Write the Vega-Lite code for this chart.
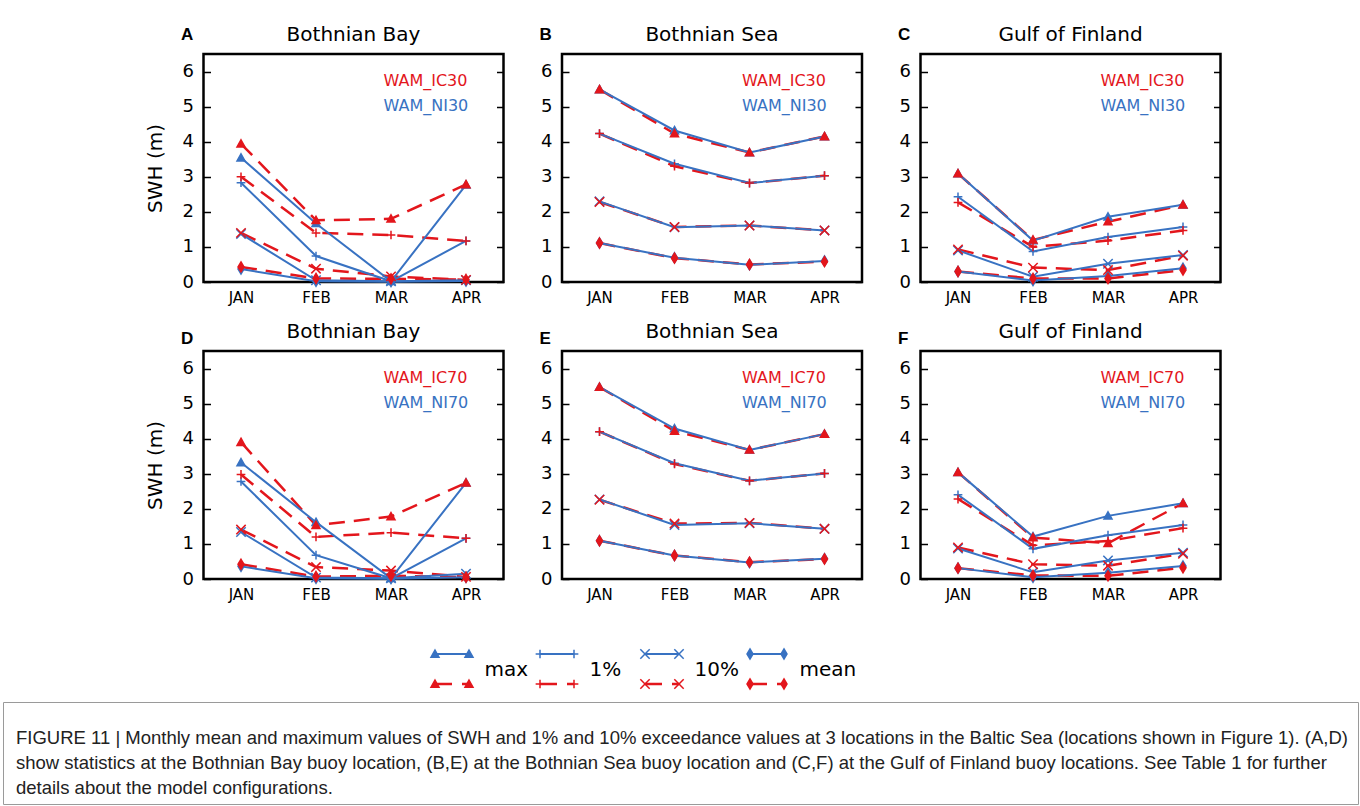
{
"$schema": "https://vega.github.io/schema/vega-lite/v6.json",
"background": "white",
"padding": {"left": 2, "top": 23, "right": 0, "bottom": 0},
"config": {"font": "DejaVu Sans", "view": {"stroke": "black", "strokeWidth": 2.5}, "axis": {"labelFont": "DejaVu Sans", "titleFont": "DejaVu Sans"}},
"datasets": {
"swh": [
{"p":"A","md":"IC","s":"max","m":1,"v":3.94},{"p":"A","md":"IC","s":"max","m":2,"v":1.76},{"p":"A","md":"IC","s":"max","m":3,"v":1.8},{"p":"A","md":"IC","s":"max","m":4,"v":2.78},
{"p":"A","md":"NI","s":"max","m":1,"v":3.54},{"p":"A","md":"NI","s":"max","m":2,"v":1.67},{"p":"A","md":"NI","s":"max","m":3,"v":0.02},{"p":"A","md":"NI","s":"max","m":4,"v":2.77},
{"p":"A","md":"IC","s":"1%","m":1,"v":3.0},{"p":"A","md":"IC","s":"1%","m":2,"v":1.4},{"p":"A","md":"IC","s":"1%","m":3,"v":1.34},{"p":"A","md":"IC","s":"1%","m":4,"v":1.17},
{"p":"A","md":"NI","s":"1%","m":1,"v":2.83},{"p":"A","md":"NI","s":"1%","m":2,"v":0.74},{"p":"A","md":"NI","s":"1%","m":3,"v":0.02},{"p":"A","md":"NI","s":"1%","m":4,"v":1.17},
{"p":"A","md":"IC","s":"10%","m":1,"v":1.4},{"p":"A","md":"IC","s":"10%","m":2,"v":0.38},{"p":"A","md":"IC","s":"10%","m":3,"v":0.16},{"p":"A","md":"IC","s":"10%","m":4,"v":0.06},
{"p":"A","md":"NI","s":"10%","m":1,"v":1.37},{"p":"A","md":"NI","s":"10%","m":2,"v":0.05},{"p":"A","md":"NI","s":"10%","m":3,"v":0.02},{"p":"A","md":"NI","s":"10%","m":4,"v":0.05},
{"p":"A","md":"IC","s":"mean","m":1,"v":0.43},{"p":"A","md":"IC","s":"mean","m":2,"v":0.1},{"p":"A","md":"IC","s":"mean","m":3,"v":0.09},{"p":"A","md":"IC","s":"mean","m":4,"v":0.07},
{"p":"A","md":"NI","s":"mean","m":1,"v":0.37},{"p":"A","md":"NI","s":"mean","m":2,"v":0.02},{"p":"A","md":"NI","s":"mean","m":3,"v":0.01},{"p":"A","md":"NI","s":"mean","m":4,"v":0.03},
{"p":"B","md":"IC","s":"max","m":1,"v":5.49},{"p":"B","md":"IC","s":"max","m":2,"v":4.23},{"p":"B","md":"IC","s":"max","m":3,"v":3.69},{"p":"B","md":"IC","s":"max","m":4,"v":4.15},
{"p":"B","md":"NI","s":"max","m":1,"v":5.49},{"p":"B","md":"NI","s":"max","m":2,"v":4.32},{"p":"B","md":"NI","s":"max","m":3,"v":3.69},{"p":"B","md":"NI","s":"max","m":4,"v":4.15},
{"p":"B","md":"IC","s":"1%","m":1,"v":4.23},{"p":"B","md":"IC","s":"1%","m":2,"v":3.3},{"p":"B","md":"IC","s":"1%","m":3,"v":2.82},{"p":"B","md":"IC","s":"1%","m":4,"v":3.03},
{"p":"B","md":"NI","s":"1%","m":1,"v":4.23},{"p":"B","md":"NI","s":"1%","m":2,"v":3.37},{"p":"B","md":"NI","s":"1%","m":3,"v":2.82},{"p":"B","md":"NI","s":"1%","m":4,"v":3.03},
{"p":"B","md":"IC","s":"10%","m":1,"v":2.28},{"p":"B","md":"IC","s":"10%","m":2,"v":1.57},{"p":"B","md":"IC","s":"10%","m":3,"v":1.61},{"p":"B","md":"IC","s":"10%","m":4,"v":1.47},
{"p":"B","md":"NI","s":"10%","m":1,"v":2.3},{"p":"B","md":"NI","s":"10%","m":2,"v":1.56},{"p":"B","md":"NI","s":"10%","m":3,"v":1.61},{"p":"B","md":"NI","s":"10%","m":4,"v":1.47},
{"p":"B","md":"IC","s":"mean","m":1,"v":1.11},{"p":"B","md":"IC","s":"mean","m":2,"v":0.68},{"p":"B","md":"IC","s":"mean","m":3,"v":0.5},{"p":"B","md":"IC","s":"mean","m":4,"v":0.58},
{"p":"B","md":"NI","s":"mean","m":1,"v":1.11},{"p":"B","md":"NI","s":"mean","m":2,"v":0.69},{"p":"B","md":"NI","s":"mean","m":3,"v":0.49},{"p":"B","md":"NI","s":"mean","m":4,"v":0.6},
{"p":"C","md":"IC","s":"max","m":1,"v":3.09},{"p":"C","md":"IC","s":"max","m":2,"v":1.2},{"p":"C","md":"IC","s":"max","m":3,"v":1.72},{"p":"C","md":"IC","s":"max","m":4,"v":2.2},
{"p":"C","md":"NI","s":"max","m":1,"v":3.09},{"p":"C","md":"NI","s":"max","m":2,"v":1.18},{"p":"C","md":"NI","s":"max","m":3,"v":1.86},{"p":"C","md":"NI","s":"max","m":4,"v":2.2},
{"p":"C","md":"IC","s":"1%","m":1,"v":2.27},{"p":"C","md":"IC","s":"1%","m":2,"v":1.0},{"p":"C","md":"IC","s":"1%","m":3,"v":1.18},{"p":"C","md":"IC","s":"1%","m":4,"v":1.47},
{"p":"C","md":"NI","s":"1%","m":1,"v":2.43},{"p":"C","md":"NI","s":"1%","m":2,"v":0.87},{"p":"C","md":"NI","s":"1%","m":3,"v":1.28},{"p":"C","md":"NI","s":"1%","m":4,"v":1.57},
{"p":"C","md":"IC","s":"10%","m":1,"v":0.93},{"p":"C","md":"IC","s":"10%","m":2,"v":0.41},{"p":"C","md":"IC","s":"10%","m":3,"v":0.34},{"p":"C","md":"IC","s":"10%","m":4,"v":0.75},
{"p":"C","md":"NI","s":"10%","m":1,"v":0.9},{"p":"C","md":"NI","s":"10%","m":2,"v":0.15},{"p":"C","md":"NI","s":"10%","m":3,"v":0.52},{"p":"C","md":"NI","s":"10%","m":4,"v":0.77},
{"p":"C","md":"IC","s":"mean","m":1,"v":0.3},{"p":"C","md":"IC","s":"mean","m":2,"v":0.1},{"p":"C","md":"IC","s":"mean","m":3,"v":0.1},{"p":"C","md":"IC","s":"mean","m":4,"v":0.34},
{"p":"C","md":"NI","s":"mean","m":1,"v":0.3},{"p":"C","md":"NI","s":"mean","m":2,"v":0.04},{"p":"C","md":"NI","s":"mean","m":3,"v":0.17},{"p":"C","md":"NI","s":"mean","m":4,"v":0.39},
{"p":"D","md":"IC","s":"max","m":1,"v":3.9},{"p":"D","md":"IC","s":"max","m":2,"v":1.53},{"p":"D","md":"IC","s":"max","m":3,"v":1.78},{"p":"D","md":"IC","s":"max","m":4,"v":2.74},
{"p":"D","md":"NI","s":"max","m":1,"v":3.32},{"p":"D","md":"NI","s":"max","m":2,"v":1.62},{"p":"D","md":"NI","s":"max","m":3,"v":0.02},{"p":"D","md":"NI","s":"max","m":4,"v":2.74},
{"p":"D","md":"IC","s":"1%","m":1,"v":2.98},{"p":"D","md":"IC","s":"1%","m":2,"v":1.2},{"p":"D","md":"IC","s":"1%","m":3,"v":1.32},{"p":"D","md":"IC","s":"1%","m":4,"v":1.16},
{"p":"D","md":"NI","s":"1%","m":1,"v":2.78},{"p":"D","md":"NI","s":"1%","m":2,"v":0.68},{"p":"D","md":"NI","s":"1%","m":3,"v":0.02},{"p":"D","md":"NI","s":"1%","m":4,"v":1.16},
{"p":"D","md":"IC","s":"10%","m":1,"v":1.41},{"p":"D","md":"IC","s":"10%","m":2,"v":0.34},{"p":"D","md":"IC","s":"10%","m":3,"v":0.24},{"p":"D","md":"IC","s":"10%","m":4,"v":0.06},
{"p":"D","md":"NI","s":"10%","m":1,"v":1.34},{"p":"D","md":"NI","s":"10%","m":2,"v":0.04},{"p":"D","md":"NI","s":"10%","m":3,"v":0.02},{"p":"D","md":"NI","s":"10%","m":4,"v":0.15},
{"p":"D","md":"IC","s":"mean","m":1,"v":0.42},{"p":"D","md":"IC","s":"mean","m":2,"v":0.07},{"p":"D","md":"IC","s":"mean","m":3,"v":0.09},{"p":"D","md":"IC","s":"mean","m":4,"v":0.05},
{"p":"D","md":"NI","s":"mean","m":1,"v":0.36},{"p":"D","md":"NI","s":"mean","m":2,"v":0.02},{"p":"D","md":"NI","s":"mean","m":3,"v":0.01},{"p":"D","md":"NI","s":"mean","m":4,"v":0.05},
{"p":"E","md":"IC","s":"max","m":1,"v":5.47},{"p":"E","md":"IC","s":"max","m":2,"v":4.22},{"p":"E","md":"IC","s":"max","m":3,"v":3.68},{"p":"E","md":"IC","s":"max","m":4,"v":4.13},
{"p":"E","md":"NI","s":"max","m":1,"v":5.47},{"p":"E","md":"NI","s":"max","m":2,"v":4.29},{"p":"E","md":"NI","s":"max","m":3,"v":3.68},{"p":"E","md":"NI","s":"max","m":4,"v":4.13},
{"p":"E","md":"IC","s":"1%","m":1,"v":4.2},{"p":"E","md":"IC","s":"1%","m":2,"v":3.28},{"p":"E","md":"IC","s":"1%","m":3,"v":2.8},{"p":"E","md":"IC","s":"1%","m":4,"v":3.01},
{"p":"E","md":"NI","s":"1%","m":1,"v":4.2},{"p":"E","md":"NI","s":"1%","m":2,"v":3.3},{"p":"E","md":"NI","s":"1%","m":3,"v":2.8},{"p":"E","md":"NI","s":"1%","m":4,"v":3.01},
{"p":"E","md":"IC","s":"10%","m":1,"v":2.26},{"p":"E","md":"IC","s":"10%","m":2,"v":1.58},{"p":"E","md":"IC","s":"10%","m":3,"v":1.6},{"p":"E","md":"IC","s":"10%","m":4,"v":1.43},
{"p":"E","md":"NI","s":"10%","m":1,"v":2.27},{"p":"E","md":"NI","s":"10%","m":2,"v":1.54},{"p":"E","md":"NI","s":"10%","m":3,"v":1.59},{"p":"E","md":"NI","s":"10%","m":4,"v":1.43},
{"p":"E","md":"IC","s":"mean","m":1,"v":1.09},{"p":"E","md":"IC","s":"mean","m":2,"v":0.67},{"p":"E","md":"IC","s":"mean","m":3,"v":0.48},{"p":"E","md":"IC","s":"mean","m":4,"v":0.57},
{"p":"E","md":"NI","s":"mean","m":1,"v":1.09},{"p":"E","md":"NI","s":"mean","m":2,"v":0.67},{"p":"E","md":"NI","s":"mean","m":3,"v":0.47},{"p":"E","md":"NI","s":"mean","m":4,"v":0.58},
{"p":"F","md":"IC","s":"max","m":1,"v":3.04},{"p":"F","md":"IC","s":"max","m":2,"v":1.18},{"p":"F","md":"IC","s":"max","m":3,"v":1.02},{"p":"F","md":"IC","s":"max","m":4,"v":2.16},
{"p":"F","md":"NI","s":"max","m":1,"v":3.04},{"p":"F","md":"NI","s":"max","m":2,"v":1.21},{"p":"F","md":"NI","s":"max","m":3,"v":1.8},{"p":"F","md":"NI","s":"max","m":4,"v":2.16},
{"p":"F","md":"IC","s":"1%","m":1,"v":2.28},{"p":"F","md":"IC","s":"1%","m":2,"v":0.96},{"p":"F","md":"IC","s":"1%","m":3,"v":1.08},{"p":"F","md":"IC","s":"1%","m":4,"v":1.45},
{"p":"F","md":"NI","s":"1%","m":1,"v":2.4},{"p":"F","md":"NI","s":"1%","m":2,"v":0.86},{"p":"F","md":"NI","s":"1%","m":3,"v":1.25},{"p":"F","md":"NI","s":"1%","m":4,"v":1.54},
{"p":"F","md":"IC","s":"10%","m":1,"v":0.9},{"p":"F","md":"IC","s":"10%","m":2,"v":0.42},{"p":"F","md":"IC","s":"10%","m":3,"v":0.38},{"p":"F","md":"IC","s":"10%","m":4,"v":0.72},
{"p":"F","md":"NI","s":"10%","m":1,"v":0.87},{"p":"F","md":"NI","s":"10%","m":2,"v":0.19},{"p":"F","md":"NI","s":"10%","m":3,"v":0.53},{"p":"F","md":"NI","s":"10%","m":4,"v":0.75},
{"p":"F","md":"IC","s":"mean","m":1,"v":0.31},{"p":"F","md":"IC","s":"mean","m":2,"v":0.1},{"p":"F","md":"IC","s":"mean","m":3,"v":0.09},{"p":"F","md":"IC","s":"mean","m":4,"v":0.32},
{"p":"F","md":"NI","s":"mean","m":1,"v":0.31},{"p":"F","md":"NI","s":"mean","m":2,"v":0.05},{"p":"F","md":"NI","s":"mean","m":3,"v":0.18},{"p":"F","md":"NI","s":"mean","m":4,"v":0.37}
],
"leg": [
{"s":"max","md":"NI","e":"L"},{"s":"max","md":"NI","e":"R"},{"s":"max","md":"IC","e":"L"},{"s":"max","md":"IC","e":"R"},
{"s":"1%","md":"NI","e":"L"},{"s":"1%","md":"NI","e":"R"},{"s":"1%","md":"IC","e":"L"},{"s":"1%","md":"IC","e":"R"},
{"s":"10%","md":"NI","e":"L"},{"s":"10%","md":"NI","e":"R"},{"s":"10%","md":"IC","e":"L"},{"s":"10%","md":"IC","e":"R"},
{"s":"mean","md":"NI","e":"L"},{"s":"mean","md":"NI","e":"R"},{"s":"mean","md":"IC","e":"L"},{"s":"mean","md":"IC","e":"R"}
],
"cap": [
{"ln":1,"t":"FIGURE 11 | Monthly mean and maximum values of SWH and 1% and 10% exceedance values at 3 locations in the Baltic Sea (locations shown in Figure 1). (A,D)"},
{"ln":2,"t":"show statistics at the Bothnian Bay buoy location, (B,E) at the Bothnian Sea buoy location and (C,F) at the Gulf of Finland buoy locations. See Table 1 for further"},
{"ln":3,"t":"details about the model configurations."}
]
},
"resolve": {"scale": {"x": "independent", "y": "independent"}},
"spacing": 42,
"vconcat": [
{"vconcat": [
{"hconcat": [
{"width": 141.5, "height": 10, "view": {"stroke": null}, "data": {"values": [{}]}, "mark": {"type": "text", "text": ""}},
{"width": 300, "height": 228, "data": {"name": "swh"}, "resolve": {"axis": {"x": "independent", "y": "independent"}}, "layer": [
{"transform": [{"filter": "datum.p === 'A' && datum.md === 'IC'"}], "mark": {"type": "line", "color": "#e3161c", "strokeWidth": 2.5, "strokeDash": [16, 9]}, "encoding": {"x": {"field": "m", "type": "quantitative", "scale": {"domain": [0.5, 4.5], "nice": false, "zero": false}, "axis": {"orient": "bottom", "values": [1,2,3,4], "labelExpr": "['JAN','FEB','MAR','APR'][datum.value-1]", "ticks": false, "domain": false, "grid": false, "labelFontSize": 15, "labelPadding": 8, "title": null, "labelColor": "black"}}, "y": {"field": "v", "type": "quantitative", "scale": {"domain": [0, 6.5], "nice": false}, "axis": {"values": [0,1,2,3,4,5,6], "format": "d", "grid": false, "domain": false, "tickSize": -7, "tickWidth": 1.5, "tickColor": "black", "labelFontSize": 18, "labelPadding": 17, "labelColor": "black", "title": "SWH (m)", "titleFontSize": 20, "titleFontWeight": "normal", "titleColor": "black", "titlePadding": 17}}, "detail": {"field": "s"}}},
{"transform": [{"filter": "datum.p === 'A' && datum.md === 'NI'"}], "mark": {"type": "line", "color": "#3872c2", "strokeWidth": 2}, "encoding": {"x": {"field": "m", "type": "quantitative", "scale": {"domain": [0.5, 4.5], "nice": false, "zero": false}, "axis": null}, "y": {"field": "v", "type": "quantitative", "scale": {"domain": [0, 6.5], "nice": false}, "axis": {"orient": "right", "values": [0,1,2,3,4,5,6], "labels": false, "grid": false, "domain": false, "tickSize": -7, "tickWidth": 1.5, "tickColor": "black", "title": null}}, "detail": {"field": "s"}}},
{"transform": [{"filter": "datum.p === 'A' && datum.md === 'NI'"}], "mark": {"type": "point", "filled": false, "color": "#3872c2", "strokeWidth": 1.5, "opacity": 1}, "encoding": {"x": {"field": "m", "type": "quantitative", "scale": {"domain": [0.5, 4.5], "nice": false, "zero": false}, "axis": null}, "y": {"field": "v", "type": "quantitative", "scale": {"domain": [0, 6.5], "nice": false}, "axis": null}, "shape": {"field": "s", "type": "nominal", "scale": {"domain": ["max","1%","10%","mean"], "range": ["M0,-1L1,0.8L-1,0.8Z","M-1,0H1M0,-1V1","M-1,-1L1,1M-1,1L1,-1","M0,-1L0.6,0L0,1L-0.6,0Z"]}, "legend": null}, "size": {"field": "s", "type": "nominal", "scale": {"domain": ["max","1%","10%","mean"], "range": [64, 100, 81, 121]}, "legend": null}, "fill": {"condition": {"test": "datum.s === 'max' || datum.s === 'mean'", "value": "#3872c2"}, "value": "transparent"}}},
{"transform": [{"filter": "datum.p === 'A' && datum.md === 'IC'"}], "mark": {"type": "point", "filled": false, "color": "#e3161c", "strokeWidth": 1.5, "opacity": 1}, "encoding": {"x": {"field": "m", "type": "quantitative", "scale": {"domain": [0.5, 4.5], "nice": false, "zero": false}, "axis": null}, "y": {"field": "v", "type": "quantitative", "scale": {"domain": [0, 6.5], "nice": false}, "axis": null}, "shape": {"field": "s", "type": "nominal", "scale": {"domain": ["max","1%","10%","mean"], "range": ["M0,-1L1,0.8L-1,0.8Z","M-1,0H1M0,-1V1","M-1,-1L1,1M-1,1L1,-1","M0,-1L0.6,0L0,1L-0.6,0Z"]}, "legend": null}, "size": {"field": "s", "type": "nominal", "scale": {"domain": ["max","1%","10%","mean"], "range": [64, 100, 81, 121]}, "legend": null}, "fill": {"condition": {"test": "datum.s === 'max' || datum.s === 'mean'", "value": "#e3161c"}, "value": "transparent"}}},
{"data": {"values": [{}]}, "mark": {"type": "text", "text": "A", "font": "Liberation Sans", "fontWeight": "bold", "fontSize": 17, "align": "left", "baseline": "alphabetic", "color": "black"}, "encoding": {"x": {"datum": 0.2, "type": "quantitative", "scale": {"domain": [0.5, 4.5], "nice": false, "zero": false}, "axis": null}, "y": {"datum": 6.9, "type": "quantitative", "scale": {"domain": [0, 6.5], "nice": false}, "axis": null}}},
{"data": {"values": [{}]}, "mark": {"type": "text", "text": "Bothnian Bay", "fontSize": 20, "align": "center", "baseline": "alphabetic", "color": "black"}, "encoding": {"x": {"datum": 2.5, "type": "quantitative", "scale": {"domain": [0.5, 4.5], "nice": false, "zero": false}, "axis": null}, "y": {"datum": 6.87, "type": "quantitative", "scale": {"domain": [0, 6.5], "nice": false}, "axis": null}}},
{"data": {"values": [{}]}, "mark": {"type": "text", "text": "WAM_IC30", "fontSize": 16, "align": "left", "baseline": "middle", "color": "#e3161c"}, "encoding": {"x": {"datum": 2.9, "type": "quantitative", "scale": {"domain": [0.5, 4.5], "nice": false, "zero": false}, "axis": null}, "y": {"datum": 5.74, "type": "quantitative", "scale": {"domain": [0, 6.5], "nice": false}, "axis": null}}},
{"data": {"values": [{}]}, "mark": {"type": "text", "text": "WAM_NI30", "fontSize": 16, "align": "left", "baseline": "middle", "color": "#3872c2"}, "encoding": {"x": {"datum": 2.9, "type": "quantitative", "scale": {"domain": [0.5, 4.5], "nice": false, "zero": false}, "axis": null}, "y": {"datum": 5.03, "type": "quantitative", "scale": {"domain": [0, 6.5], "nice": false}, "axis": null}}}
]},
{"width": 300, "height": 228, "data": {"name": "swh"}, "resolve": {"axis": {"x": "independent", "y": "independent"}}, "layer": [
{"transform": [{"filter": "datum.p === 'B' && datum.md === 'IC'"}], "mark": {"type": "line", "color": "#e3161c", "strokeWidth": 2.5, "strokeDash": [16, 9]}, "encoding": {"x": {"field": "m", "type": "quantitative", "scale": {"domain": [0.5, 4.5], "nice": false, "zero": false}, "axis": {"orient": "bottom", "values": [1,2,3,4], "labelExpr": "['JAN','FEB','MAR','APR'][datum.value-1]", "ticks": false, "domain": false, "grid": false, "labelFontSize": 15, "labelPadding": 8, "title": null, "labelColor": "black"}}, "y": {"field": "v", "type": "quantitative", "scale": {"domain": [0, 6.5], "nice": false}, "axis": {"values": [0,1,2,3,4,5,6], "format": "d", "grid": false, "domain": false, "tickSize": -7, "tickWidth": 1.5, "tickColor": "black", "labelFontSize": 18, "labelPadding": 17, "labelColor": "black", "title": null}}, "detail": {"field": "s"}}},
{"transform": [{"filter": "datum.p === 'B' && datum.md === 'NI'"}], "mark": {"type": "line", "color": "#3872c2", "strokeWidth": 2}, "encoding": {"x": {"field": "m", "type": "quantitative", "scale": {"domain": [0.5, 4.5], "nice": false, "zero": false}, "axis": null}, "y": {"field": "v", "type": "quantitative", "scale": {"domain": [0, 6.5], "nice": false}, "axis": {"orient": "right", "values": [0,1,2,3,4,5,6], "labels": false, "grid": false, "domain": false, "tickSize": -7, "tickWidth": 1.5, "tickColor": "black", "title": null}}, "detail": {"field": "s"}}},
{"transform": [{"filter": "datum.p === 'B' && datum.md === 'NI'"}], "mark": {"type": "point", "filled": false, "color": "#3872c2", "strokeWidth": 1.5, "opacity": 1}, "encoding": {"x": {"field": "m", "type": "quantitative", "scale": {"domain": [0.5, 4.5], "nice": false, "zero": false}, "axis": null}, "y": {"field": "v", "type": "quantitative", "scale": {"domain": [0, 6.5], "nice": false}, "axis": null}, "shape": {"field": "s", "type": "nominal", "scale": {"domain": ["max","1%","10%","mean"], "range": ["M0,-1L1,0.8L-1,0.8Z","M-1,0H1M0,-1V1","M-1,-1L1,1M-1,1L1,-1","M0,-1L0.6,0L0,1L-0.6,0Z"]}, "legend": null}, "size": {"field": "s", "type": "nominal", "scale": {"domain": ["max","1%","10%","mean"], "range": [64, 100, 81, 121]}, "legend": null}, "fill": {"condition": {"test": "datum.s === 'max' || datum.s === 'mean'", "value": "#3872c2"}, "value": "transparent"}}},
{"transform": [{"filter": "datum.p === 'B' && datum.md === 'IC'"}], "mark": {"type": "point", "filled": false, "color": "#e3161c", "strokeWidth": 1.5, "opacity": 1}, "encoding": {"x": {"field": "m", "type": "quantitative", "scale": {"domain": [0.5, 4.5], "nice": false, "zero": false}, "axis": null}, "y": {"field": "v", "type": "quantitative", "scale": {"domain": [0, 6.5], "nice": false}, "axis": null}, "shape": {"field": "s", "type": "nominal", "scale": {"domain": ["max","1%","10%","mean"], "range": ["M0,-1L1,0.8L-1,0.8Z","M-1,0H1M0,-1V1","M-1,-1L1,1M-1,1L1,-1","M0,-1L0.6,0L0,1L-0.6,0Z"]}, "legend": null}, "size": {"field": "s", "type": "nominal", "scale": {"domain": ["max","1%","10%","mean"], "range": [64, 100, 81, 121]}, "legend": null}, "fill": {"condition": {"test": "datum.s === 'max' || datum.s === 'mean'", "value": "#e3161c"}, "value": "transparent"}}},
{"data": {"values": [{}]}, "mark": {"type": "text", "text": "B", "font": "Liberation Sans", "fontWeight": "bold", "fontSize": 17, "align": "left", "baseline": "alphabetic", "color": "black"}, "encoding": {"x": {"datum": 0.2, "type": "quantitative", "scale": {"domain": [0.5, 4.5], "nice": false, "zero": false}, "axis": null}, "y": {"datum": 6.9, "type": "quantitative", "scale": {"domain": [0, 6.5], "nice": false}, "axis": null}}},
{"data": {"values": [{}]}, "mark": {"type": "text", "text": "Bothnian Sea", "fontSize": 20, "align": "center", "baseline": "alphabetic", "color": "black"}, "encoding": {"x": {"datum": 2.5, "type": "quantitative", "scale": {"domain": [0.5, 4.5], "nice": false, "zero": false}, "axis": null}, "y": {"datum": 6.87, "type": "quantitative", "scale": {"domain": [0, 6.5], "nice": false}, "axis": null}}},
{"data": {"values": [{}]}, "mark": {"type": "text", "text": "WAM_IC30", "fontSize": 16, "align": "left", "baseline": "middle", "color": "#e3161c"}, "encoding": {"x": {"datum": 2.9, "type": "quantitative", "scale": {"domain": [0.5, 4.5], "nice": false, "zero": false}, "axis": null}, "y": {"datum": 5.74, "type": "quantitative", "scale": {"domain": [0, 6.5], "nice": false}, "axis": null}}},
{"data": {"values": [{}]}, "mark": {"type": "text", "text": "WAM_NI30", "fontSize": 16, "align": "left", "baseline": "middle", "color": "#3872c2"}, "encoding": {"x": {"datum": 2.9, "type": "quantitative", "scale": {"domain": [0.5, 4.5], "nice": false, "zero": false}, "axis": null}, "y": {"datum": 5.03, "type": "quantitative", "scale": {"domain": [0, 6.5], "nice": false}, "axis": null}}}
]},
{"width": 300, "height": 228, "data": {"name": "swh"}, "resolve": {"axis": {"x": "independent", "y": "independent"}}, "layer": [
{"transform": [{"filter": "datum.p === 'C' && datum.md === 'IC'"}], "mark": {"type": "line", "color": "#e3161c", "strokeWidth": 2.5, "strokeDash": [16, 9]}, "encoding": {"x": {"field": "m", "type": "quantitative", "scale": {"domain": [0.5, 4.5], "nice": false, "zero": false}, "axis": {"orient": "bottom", "values": [1,2,3,4], "labelExpr": "['JAN','FEB','MAR','APR'][datum.value-1]", "ticks": false, "domain": false, "grid": false, "labelFontSize": 15, "labelPadding": 8, "title": null, "labelColor": "black"}}, "y": {"field": "v", "type": "quantitative", "scale": {"domain": [0, 6.5], "nice": false}, "axis": {"values": [0,1,2,3,4,5,6], "format": "d", "grid": false, "domain": false, "tickSize": -7, "tickWidth": 1.5, "tickColor": "black", "labelFontSize": 18, "labelPadding": 17, "labelColor": "black", "title": null}}, "detail": {"field": "s"}}},
{"transform": [{"filter": "datum.p === 'C' && datum.md === 'NI'"}], "mark": {"type": "line", "color": "#3872c2", "strokeWidth": 2}, "encoding": {"x": {"field": "m", "type": "quantitative", "scale": {"domain": [0.5, 4.5], "nice": false, "zero": false}, "axis": null}, "y": {"field": "v", "type": "quantitative", "scale": {"domain": [0, 6.5], "nice": false}, "axis": {"orient": "right", "values": [0,1,2,3,4,5,6], "labels": false, "grid": false, "domain": false, "tickSize": -7, "tickWidth": 1.5, "tickColor": "black", "title": null}}, "detail": {"field": "s"}}},
{"transform": [{"filter": "datum.p === 'C' && datum.md === 'NI'"}], "mark": {"type": "point", "filled": false, "color": "#3872c2", "strokeWidth": 1.5, "opacity": 1}, "encoding": {"x": {"field": "m", "type": "quantitative", "scale": {"domain": [0.5, 4.5], "nice": false, "zero": false}, "axis": null}, "y": {"field": "v", "type": "quantitative", "scale": {"domain": [0, 6.5], "nice": false}, "axis": null}, "shape": {"field": "s", "type": "nominal", "scale": {"domain": ["max","1%","10%","mean"], "range": ["M0,-1L1,0.8L-1,0.8Z","M-1,0H1M0,-1V1","M-1,-1L1,1M-1,1L1,-1","M0,-1L0.6,0L0,1L-0.6,0Z"]}, "legend": null}, "size": {"field": "s", "type": "nominal", "scale": {"domain": ["max","1%","10%","mean"], "range": [64, 100, 81, 121]}, "legend": null}, "fill": {"condition": {"test": "datum.s === 'max' || datum.s === 'mean'", "value": "#3872c2"}, "value": "transparent"}}},
{"transform": [{"filter": "datum.p === 'C' && datum.md === 'IC'"}], "mark": {"type": "point", "filled": false, "color": "#e3161c", "strokeWidth": 1.5, "opacity": 1}, "encoding": {"x": {"field": "m", "type": "quantitative", "scale": {"domain": [0.5, 4.5], "nice": false, "zero": false}, "axis": null}, "y": {"field": "v", "type": "quantitative", "scale": {"domain": [0, 6.5], "nice": false}, "axis": null}, "shape": {"field": "s", "type": "nominal", "scale": {"domain": ["max","1%","10%","mean"], "range": ["M0,-1L1,0.8L-1,0.8Z","M-1,0H1M0,-1V1","M-1,-1L1,1M-1,1L1,-1","M0,-1L0.6,0L0,1L-0.6,0Z"]}, "legend": null}, "size": {"field": "s", "type": "nominal", "scale": {"domain": ["max","1%","10%","mean"], "range": [64, 100, 81, 121]}, "legend": null}, "fill": {"condition": {"test": "datum.s === 'max' || datum.s === 'mean'", "value": "#e3161c"}, "value": "transparent"}}},
{"data": {"values": [{}]}, "mark": {"type": "text", "text": "C", "font": "Liberation Sans", "fontWeight": "bold", "fontSize": 17, "align": "left", "baseline": "alphabetic", "color": "black"}, "encoding": {"x": {"datum": 0.2, "type": "quantitative", "scale": {"domain": [0.5, 4.5], "nice": false, "zero": false}, "axis": null}, "y": {"datum": 6.9, "type": "quantitative", "scale": {"domain": [0, 6.5], "nice": false}, "axis": null}}},
{"data": {"values": [{}]}, "mark": {"type": "text", "text": "Gulf of Finland", "fontSize": 20, "align": "center", "baseline": "alphabetic", "color": "black"}, "encoding": {"x": {"datum": 2.5, "type": "quantitative", "scale": {"domain": [0.5, 4.5], "nice": false, "zero": false}, "axis": null}, "y": {"datum": 6.87, "type": "quantitative", "scale": {"domain": [0, 6.5], "nice": false}, "axis": null}}},
{"data": {"values": [{}]}, "mark": {"type": "text", "text": "WAM_IC30", "fontSize": 16, "align": "left", "baseline": "middle", "color": "#e3161c"}, "encoding": {"x": {"datum": 2.9, "type": "quantitative", "scale": {"domain": [0.5, 4.5], "nice": false, "zero": false}, "axis": null}, "y": {"datum": 5.74, "type": "quantitative", "scale": {"domain": [0, 6.5], "nice": false}, "axis": null}}},
{"data": {"values": [{}]}, "mark": {"type": "text", "text": "WAM_NI30", "fontSize": 16, "align": "left", "baseline": "middle", "color": "#3872c2"}, "encoding": {"x": {"datum": 2.9, "type": "quantitative", "scale": {"domain": [0.5, 4.5], "nice": false, "zero": false}, "axis": null}, "y": {"datum": 5.03, "type": "quantitative", "scale": {"domain": [0, 6.5], "nice": false}, "axis": null}}}
]}
], "spacing": 58.5, "bounds": "flush", "resolve": {"scale": {"x": "independent", "y": "independent"}}},
{"hconcat": [
{"width": 141.5, "height": 10, "view": {"stroke": null}, "data": {"values": [{}]}, "mark": {"type": "text", "text": ""}},
{"width": 300, "height": 228, "data": {"name": "swh"}, "resolve": {"axis": {"x": "independent", "y": "independent"}}, "layer": [
{"transform": [{"filter": "datum.p === 'D' && datum.md === 'IC'"}], "mark": {"type": "line", "color": "#e3161c", "strokeWidth": 2.5, "strokeDash": [16, 9]}, "encoding": {"x": {"field": "m", "type": "quantitative", "scale": {"domain": [0.5, 4.5], "nice": false, "zero": false}, "axis": {"orient": "bottom", "values": [1,2,3,4], "labelExpr": "['JAN','FEB','MAR','APR'][datum.value-1]", "ticks": false, "domain": false, "grid": false, "labelFontSize": 15, "labelPadding": 8, "title": null, "labelColor": "black"}}, "y": {"field": "v", "type": "quantitative", "scale": {"domain": [0, 6.5], "nice": false}, "axis": {"values": [0,1,2,3,4,5,6], "format": "d", "grid": false, "domain": false, "tickSize": -7, "tickWidth": 1.5, "tickColor": "black", "labelFontSize": 18, "labelPadding": 17, "labelColor": "black", "title": "SWH (m)", "titleFontSize": 20, "titleFontWeight": "normal", "titleColor": "black", "titlePadding": 17}}, "detail": {"field": "s"}}},
{"transform": [{"filter": "datum.p === 'D' && datum.md === 'NI'"}], "mark": {"type": "line", "color": "#3872c2", "strokeWidth": 2}, "encoding": {"x": {"field": "m", "type": "quantitative", "scale": {"domain": [0.5, 4.5], "nice": false, "zero": false}, "axis": null}, "y": {"field": "v", "type": "quantitative", "scale": {"domain": [0, 6.5], "nice": false}, "axis": {"orient": "right", "values": [0,1,2,3,4,5,6], "labels": false, "grid": false, "domain": false, "tickSize": -7, "tickWidth": 1.5, "tickColor": "black", "title": null}}, "detail": {"field": "s"}}},
{"transform": [{"filter": "datum.p === 'D' && datum.md === 'NI'"}], "mark": {"type": "point", "filled": false, "color": "#3872c2", "strokeWidth": 1.5, "opacity": 1}, "encoding": {"x": {"field": "m", "type": "quantitative", "scale": {"domain": [0.5, 4.5], "nice": false, "zero": false}, "axis": null}, "y": {"field": "v", "type": "quantitative", "scale": {"domain": [0, 6.5], "nice": false}, "axis": null}, "shape": {"field": "s", "type": "nominal", "scale": {"domain": ["max","1%","10%","mean"], "range": ["M0,-1L1,0.8L-1,0.8Z","M-1,0H1M0,-1V1","M-1,-1L1,1M-1,1L1,-1","M0,-1L0.6,0L0,1L-0.6,0Z"]}, "legend": null}, "size": {"field": "s", "type": "nominal", "scale": {"domain": ["max","1%","10%","mean"], "range": [64, 100, 81, 121]}, "legend": null}, "fill": {"condition": {"test": "datum.s === 'max' || datum.s === 'mean'", "value": "#3872c2"}, "value": "transparent"}}},
{"transform": [{"filter": "datum.p === 'D' && datum.md === 'IC'"}], "mark": {"type": "point", "filled": false, "color": "#e3161c", "strokeWidth": 1.5, "opacity": 1}, "encoding": {"x": {"field": "m", "type": "quantitative", "scale": {"domain": [0.5, 4.5], "nice": false, "zero": false}, "axis": null}, "y": {"field": "v", "type": "quantitative", "scale": {"domain": [0, 6.5], "nice": false}, "axis": null}, "shape": {"field": "s", "type": "nominal", "scale": {"domain": ["max","1%","10%","mean"], "range": ["M0,-1L1,0.8L-1,0.8Z","M-1,0H1M0,-1V1","M-1,-1L1,1M-1,1L1,-1","M0,-1L0.6,0L0,1L-0.6,0Z"]}, "legend": null}, "size": {"field": "s", "type": "nominal", "scale": {"domain": ["max","1%","10%","mean"], "range": [64, 100, 81, 121]}, "legend": null}, "fill": {"condition": {"test": "datum.s === 'max' || datum.s === 'mean'", "value": "#e3161c"}, "value": "transparent"}}},
{"data": {"values": [{}]}, "mark": {"type": "text", "text": "D", "font": "Liberation Sans", "fontWeight": "bold", "fontSize": 17, "align": "left", "baseline": "alphabetic", "color": "black"}, "encoding": {"x": {"datum": 0.2, "type": "quantitative", "scale": {"domain": [0.5, 4.5], "nice": false, "zero": false}, "axis": null}, "y": {"datum": 6.7, "type": "quantitative", "scale": {"domain": [0, 6.5], "nice": false}, "axis": null}}},
{"data": {"values": [{}]}, "mark": {"type": "text", "text": "Bothnian Bay", "fontSize": 20, "align": "center", "baseline": "alphabetic", "color": "black"}, "encoding": {"x": {"datum": 2.5, "type": "quantitative", "scale": {"domain": [0.5, 4.5], "nice": false, "zero": false}, "axis": null}, "y": {"datum": 6.87, "type": "quantitative", "scale": {"domain": [0, 6.5], "nice": false}, "axis": null}}},
{"data": {"values": [{}]}, "mark": {"type": "text", "text": "WAM_IC70", "fontSize": 16, "align": "left", "baseline": "middle", "color": "#e3161c"}, "encoding": {"x": {"datum": 2.9, "type": "quantitative", "scale": {"domain": [0.5, 4.5], "nice": false, "zero": false}, "axis": null}, "y": {"datum": 5.74, "type": "quantitative", "scale": {"domain": [0, 6.5], "nice": false}, "axis": null}}},
{"data": {"values": [{}]}, "mark": {"type": "text", "text": "WAM_NI70", "fontSize": 16, "align": "left", "baseline": "middle", "color": "#3872c2"}, "encoding": {"x": {"datum": 2.9, "type": "quantitative", "scale": {"domain": [0.5, 4.5], "nice": false, "zero": false}, "axis": null}, "y": {"datum": 5.03, "type": "quantitative", "scale": {"domain": [0, 6.5], "nice": false}, "axis": null}}}
]},
{"width": 300, "height": 228, "data": {"name": "swh"}, "resolve": {"axis": {"x": "independent", "y": "independent"}}, "layer": [
{"transform": [{"filter": "datum.p === 'E' && datum.md === 'IC'"}], "mark": {"type": "line", "color": "#e3161c", "strokeWidth": 2.5, "strokeDash": [16, 9]}, "encoding": {"x": {"field": "m", "type": "quantitative", "scale": {"domain": [0.5, 4.5], "nice": false, "zero": false}, "axis": {"orient": "bottom", "values": [1,2,3,4], "labelExpr": "['JAN','FEB','MAR','APR'][datum.value-1]", "ticks": false, "domain": false, "grid": false, "labelFontSize": 15, "labelPadding": 8, "title": null, "labelColor": "black"}}, "y": {"field": "v", "type": "quantitative", "scale": {"domain": [0, 6.5], "nice": false}, "axis": {"values": [0,1,2,3,4,5,6], "format": "d", "grid": false, "domain": false, "tickSize": -7, "tickWidth": 1.5, "tickColor": "black", "labelFontSize": 18, "labelPadding": 17, "labelColor": "black", "title": null}}, "detail": {"field": "s"}}},
{"transform": [{"filter": "datum.p === 'E' && datum.md === 'NI'"}], "mark": {"type": "line", "color": "#3872c2", "strokeWidth": 2}, "encoding": {"x": {"field": "m", "type": "quantitative", "scale": {"domain": [0.5, 4.5], "nice": false, "zero": false}, "axis": null}, "y": {"field": "v", "type": "quantitative", "scale": {"domain": [0, 6.5], "nice": false}, "axis": {"orient": "right", "values": [0,1,2,3,4,5,6], "labels": false, "grid": false, "domain": false, "tickSize": -7, "tickWidth": 1.5, "tickColor": "black", "title": null}}, "detail": {"field": "s"}}},
{"transform": [{"filter": "datum.p === 'E' && datum.md === 'NI'"}], "mark": {"type": "point", "filled": false, "color": "#3872c2", "strokeWidth": 1.5, "opacity": 1}, "encoding": {"x": {"field": "m", "type": "quantitative", "scale": {"domain": [0.5, 4.5], "nice": false, "zero": false}, "axis": null}, "y": {"field": "v", "type": "quantitative", "scale": {"domain": [0, 6.5], "nice": false}, "axis": null}, "shape": {"field": "s", "type": "nominal", "scale": {"domain": ["max","1%","10%","mean"], "range": ["M0,-1L1,0.8L-1,0.8Z","M-1,0H1M0,-1V1","M-1,-1L1,1M-1,1L1,-1","M0,-1L0.6,0L0,1L-0.6,0Z"]}, "legend": null}, "size": {"field": "s", "type": "nominal", "scale": {"domain": ["max","1%","10%","mean"], "range": [64, 100, 81, 121]}, "legend": null}, "fill": {"condition": {"test": "datum.s === 'max' || datum.s === 'mean'", "value": "#3872c2"}, "value": "transparent"}}},
{"transform": [{"filter": "datum.p === 'E' && datum.md === 'IC'"}], "mark": {"type": "point", "filled": false, "color": "#e3161c", "strokeWidth": 1.5, "opacity": 1}, "encoding": {"x": {"field": "m", "type": "quantitative", "scale": {"domain": [0.5, 4.5], "nice": false, "zero": false}, "axis": null}, "y": {"field": "v", "type": "quantitative", "scale": {"domain": [0, 6.5], "nice": false}, "axis": null}, "shape": {"field": "s", "type": "nominal", "scale": {"domain": ["max","1%","10%","mean"], "range": ["M0,-1L1,0.8L-1,0.8Z","M-1,0H1M0,-1V1","M-1,-1L1,1M-1,1L1,-1","M0,-1L0.6,0L0,1L-0.6,0Z"]}, "legend": null}, "size": {"field": "s", "type": "nominal", "scale": {"domain": ["max","1%","10%","mean"], "range": [64, 100, 81, 121]}, "legend": null}, "fill": {"condition": {"test": "datum.s === 'max' || datum.s === 'mean'", "value": "#e3161c"}, "value": "transparent"}}},
{"data": {"values": [{}]}, "mark": {"type": "text", "text": "E", "font": "Liberation Sans", "fontWeight": "bold", "fontSize": 17, "align": "left", "baseline": "alphabetic", "color": "black"}, "encoding": {"x": {"datum": 0.2, "type": "quantitative", "scale": {"domain": [0.5, 4.5], "nice": false, "zero": false}, "axis": null}, "y": {"datum": 6.7, "type": "quantitative", "scale": {"domain": [0, 6.5], "nice": false}, "axis": null}}},
{"data": {"values": [{}]}, "mark": {"type": "text", "text": "Bothnian Sea", "fontSize": 20, "align": "center", "baseline": "alphabetic", "color": "black"}, "encoding": {"x": {"datum": 2.5, "type": "quantitative", "scale": {"domain": [0.5, 4.5], "nice": false, "zero": false}, "axis": null}, "y": {"datum": 6.87, "type": "quantitative", "scale": {"domain": [0, 6.5], "nice": false}, "axis": null}}},
{"data": {"values": [{}]}, "mark": {"type": "text", "text": "WAM_IC70", "fontSize": 16, "align": "left", "baseline": "middle", "color": "#e3161c"}, "encoding": {"x": {"datum": 2.9, "type": "quantitative", "scale": {"domain": [0.5, 4.5], "nice": false, "zero": false}, "axis": null}, "y": {"datum": 5.74, "type": "quantitative", "scale": {"domain": [0, 6.5], "nice": false}, "axis": null}}},
{"data": {"values": [{}]}, "mark": {"type": "text", "text": "WAM_NI70", "fontSize": 16, "align": "left", "baseline": "middle", "color": "#3872c2"}, "encoding": {"x": {"datum": 2.9, "type": "quantitative", "scale": {"domain": [0.5, 4.5], "nice": false, "zero": false}, "axis": null}, "y": {"datum": 5.03, "type": "quantitative", "scale": {"domain": [0, 6.5], "nice": false}, "axis": null}}}
]},
{"width": 300, "height": 228, "data": {"name": "swh"}, "resolve": {"axis": {"x": "independent", "y": "independent"}}, "layer": [
{"transform": [{"filter": "datum.p === 'F' && datum.md === 'IC'"}], "mark": {"type": "line", "color": "#e3161c", "strokeWidth": 2.5, "strokeDash": [16, 9]}, "encoding": {"x": {"field": "m", "type": "quantitative", "scale": {"domain": [0.5, 4.5], "nice": false, "zero": false}, "axis": {"orient": "bottom", "values": [1,2,3,4], "labelExpr": "['JAN','FEB','MAR','APR'][datum.value-1]", "ticks": false, "domain": false, "grid": false, "labelFontSize": 15, "labelPadding": 8, "title": null, "labelColor": "black"}}, "y": {"field": "v", "type": "quantitative", "scale": {"domain": [0, 6.5], "nice": false}, "axis": {"values": [0,1,2,3,4,5,6], "format": "d", "grid": false, "domain": false, "tickSize": -7, "tickWidth": 1.5, "tickColor": "black", "labelFontSize": 18, "labelPadding": 17, "labelColor": "black", "title": null}}, "detail": {"field": "s"}}},
{"transform": [{"filter": "datum.p === 'F' && datum.md === 'NI'"}], "mark": {"type": "line", "color": "#3872c2", "strokeWidth": 2}, "encoding": {"x": {"field": "m", "type": "quantitative", "scale": {"domain": [0.5, 4.5], "nice": false, "zero": false}, "axis": null}, "y": {"field": "v", "type": "quantitative", "scale": {"domain": [0, 6.5], "nice": false}, "axis": {"orient": "right", "values": [0,1,2,3,4,5,6], "labels": false, "grid": false, "domain": false, "tickSize": -7, "tickWidth": 1.5, "tickColor": "black", "title": null}}, "detail": {"field": "s"}}},
{"transform": [{"filter": "datum.p === 'F' && datum.md === 'NI'"}], "mark": {"type": "point", "filled": false, "color": "#3872c2", "strokeWidth": 1.5, "opacity": 1}, "encoding": {"x": {"field": "m", "type": "quantitative", "scale": {"domain": [0.5, 4.5], "nice": false, "zero": false}, "axis": null}, "y": {"field": "v", "type": "quantitative", "scale": {"domain": [0, 6.5], "nice": false}, "axis": null}, "shape": {"field": "s", "type": "nominal", "scale": {"domain": ["max","1%","10%","mean"], "range": ["M0,-1L1,0.8L-1,0.8Z","M-1,0H1M0,-1V1","M-1,-1L1,1M-1,1L1,-1","M0,-1L0.6,0L0,1L-0.6,0Z"]}, "legend": null}, "size": {"field": "s", "type": "nominal", "scale": {"domain": ["max","1%","10%","mean"], "range": [64, 100, 81, 121]}, "legend": null}, "fill": {"condition": {"test": "datum.s === 'max' || datum.s === 'mean'", "value": "#3872c2"}, "value": "transparent"}}},
{"transform": [{"filter": "datum.p === 'F' && datum.md === 'IC'"}], "mark": {"type": "point", "filled": false, "color": "#e3161c", "strokeWidth": 1.5, "opacity": 1}, "encoding": {"x": {"field": "m", "type": "quantitative", "scale": {"domain": [0.5, 4.5], "nice": false, "zero": false}, "axis": null}, "y": {"field": "v", "type": "quantitative", "scale": {"domain": [0, 6.5], "nice": false}, "axis": null}, "shape": {"field": "s", "type": "nominal", "scale": {"domain": ["max","1%","10%","mean"], "range": ["M0,-1L1,0.8L-1,0.8Z","M-1,0H1M0,-1V1","M-1,-1L1,1M-1,1L1,-1","M0,-1L0.6,0L0,1L-0.6,0Z"]}, "legend": null}, "size": {"field": "s", "type": "nominal", "scale": {"domain": ["max","1%","10%","mean"], "range": [64, 100, 81, 121]}, "legend": null}, "fill": {"condition": {"test": "datum.s === 'max' || datum.s === 'mean'", "value": "#e3161c"}, "value": "transparent"}}},
{"data": {"values": [{}]}, "mark": {"type": "text", "text": "F", "font": "Liberation Sans", "fontWeight": "bold", "fontSize": 17, "align": "left", "baseline": "alphabetic", "color": "black"}, "encoding": {"x": {"datum": 0.2, "type": "quantitative", "scale": {"domain": [0.5, 4.5], "nice": false, "zero": false}, "axis": null}, "y": {"datum": 6.7, "type": "quantitative", "scale": {"domain": [0, 6.5], "nice": false}, "axis": null}}},
{"data": {"values": [{}]}, "mark": {"type": "text", "text": "Gulf of Finland", "fontSize": 20, "align": "center", "baseline": "alphabetic", "color": "black"}, "encoding": {"x": {"datum": 2.5, "type": "quantitative", "scale": {"domain": [0.5, 4.5], "nice": false, "zero": false}, "axis": null}, "y": {"datum": 6.87, "type": "quantitative", "scale": {"domain": [0, 6.5], "nice": false}, "axis": null}}},
{"data": {"values": [{}]}, "mark": {"type": "text", "text": "WAM_IC70", "fontSize": 16, "align": "left", "baseline": "middle", "color": "#e3161c"}, "encoding": {"x": {"datum": 2.9, "type": "quantitative", "scale": {"domain": [0.5, 4.5], "nice": false, "zero": false}, "axis": null}, "y": {"datum": 5.74, "type": "quantitative", "scale": {"domain": [0, 6.5], "nice": false}, "axis": null}}},
{"data": {"values": [{}]}, "mark": {"type": "text", "text": "WAM_NI70", "fontSize": 16, "align": "left", "baseline": "middle", "color": "#3872c2"}, "encoding": {"x": {"datum": 2.9, "type": "quantitative", "scale": {"domain": [0.5, 4.5], "nice": false, "zero": false}, "axis": null}, "y": {"datum": 5.03, "type": "quantitative", "scale": {"domain": [0, 6.5], "nice": false}, "axis": null}}}
]}
], "spacing": 58.5, "bounds": "flush", "resolve": {"scale": {"x": "independent", "y": "independent"}}}
], "spacing": 13, "resolve": {"scale": {"x": "independent", "y": "independent"}}},
{"vconcat": [
{"hconcat": [
{"width": 360.5, "height": 10, "view": {"stroke": null}, "data": {"values": [{}]}, "mark": {"type": "text", "text": ""}},
{"width": 34, "height": 30, "view": {"stroke": null}, "data": {"name": "leg"}, "layer": [
{"transform": [{"filter": "datum.s === 'max' && datum.md === 'IC'"}], "mark": {"type": "line", "color": "#e3161c", "strokeWidth": 2.5, "strokeDash": [17, 10]}, "encoding": {"x": {"field": "e", "type": "nominal", "scale": {"type": "point", "padding": 0, "domain": ["L","R"]}, "axis": null}, "y": {"field": "md", "type": "nominal", "scale": {"type": "point", "padding": 0, "domain": ["NI","IC"]}, "axis": {"orient": "right", "labels": false, "ticks": false, "domain": false, "grid": false, "title": "max", "titleAngle": 0, "titleAlign": "left", "titleBaseline": "middle", "titlePadding": 15, "titleFontSize": 20, "titleFontWeight": "normal", "titleColor": "black"}}}},
{"transform": [{"filter": "datum.s === 'max' && datum.md === 'NI'"}], "mark": {"type": "line", "color": "#3872c2", "strokeWidth": 2}, "encoding": {"x": {"field": "e", "type": "nominal", "scale": {"type": "point", "padding": 0, "domain": ["L","R"]}, "axis": null}, "y": {"field": "md", "type": "nominal", "scale": {"type": "point", "padding": 0, "domain": ["NI","IC"]}}}},
{"transform": [{"filter": "datum.s === 'max'"}], "mark": {"type": "point", "filled": false, "strokeWidth": 1.5, "opacity": 1}, "encoding": {"x": {"field": "e", "type": "nominal", "scale": {"type": "point", "padding": 0, "domain": ["L","R"]}, "axis": null}, "y": {"field": "md", "type": "nominal", "scale": {"type": "point", "padding": 0, "domain": ["NI","IC"]}}, "shape": {"field": "s", "type": "nominal", "scale": {"domain": ["max","1%","10%","mean"], "range": ["M0,-1L1,0.8L-1,0.8Z","M-1,0H1M0,-1V1","M-1,-1L1,1M-1,1L1,-1","M0,-1L0.6,0L0,1L-0.6,0Z"]}, "legend": null}, "size": {"field": "s", "type": "nominal", "scale": {"domain": ["max","1%","10%","mean"], "range": [64, 100, 81, 121]}, "legend": null}, "stroke": {"field": "md", "type": "nominal", "scale": {"domain": ["NI","IC"], "range": ["#3872c2","#e3161c"]}, "legend": null}, "fill": {"field": "md", "type": "nominal", "scale": {"domain": ["NI","IC"], "range": ["#3872c2","#e3161c"]}, "legend": null}}}
]},
{"width": 34, "height": 30, "view": {"stroke": null}, "data": {"name": "leg"}, "layer": [
{"transform": [{"filter": "datum.s === '1%' && datum.md === 'IC'"}], "mark": {"type": "line", "color": "#e3161c", "strokeWidth": 2.5, "strokeDash": [17, 10]}, "encoding": {"x": {"field": "e", "type": "nominal", "scale": {"type": "point", "padding": 0, "domain": ["L","R"]}, "axis": null}, "y": {"field": "md", "type": "nominal", "scale": {"type": "point", "padding": 0, "domain": ["NI","IC"]}, "axis": {"orient": "right", "labels": false, "ticks": false, "domain": false, "grid": false, "title": "1%", "titleAngle": 0, "titleAlign": "left", "titleBaseline": "middle", "titlePadding": 15, "titleFontSize": 20, "titleFontWeight": "normal", "titleColor": "black"}}}},
{"transform": [{"filter": "datum.s === '1%' && datum.md === 'NI'"}], "mark": {"type": "line", "color": "#3872c2", "strokeWidth": 2}, "encoding": {"x": {"field": "e", "type": "nominal", "scale": {"type": "point", "padding": 0, "domain": ["L","R"]}, "axis": null}, "y": {"field": "md", "type": "nominal", "scale": {"type": "point", "padding": 0, "domain": ["NI","IC"]}}}},
{"transform": [{"filter": "datum.s === '1%'"}], "mark": {"type": "point", "filled": false, "strokeWidth": 1.5, "opacity": 1}, "encoding": {"x": {"field": "e", "type": "nominal", "scale": {"type": "point", "padding": 0, "domain": ["L","R"]}, "axis": null}, "y": {"field": "md", "type": "nominal", "scale": {"type": "point", "padding": 0, "domain": ["NI","IC"]}}, "shape": {"field": "s", "type": "nominal", "scale": {"domain": ["max","1%","10%","mean"], "range": ["M0,-1L1,0.8L-1,0.8Z","M-1,0H1M0,-1V1","M-1,-1L1,1M-1,1L1,-1","M0,-1L0.6,0L0,1L-0.6,0Z"]}, "legend": null}, "size": {"field": "s", "type": "nominal", "scale": {"domain": ["max","1%","10%","mean"], "range": [64, 100, 81, 121]}, "legend": null}, "stroke": {"field": "md", "type": "nominal", "scale": {"domain": ["NI","IC"], "range": ["#3872c2","#e3161c"]}, "legend": null}}}
]},
{"width": 34, "height": 30, "view": {"stroke": null}, "data": {"name": "leg"}, "layer": [
{"transform": [{"filter": "datum.s === '10%' && datum.md === 'IC'"}], "mark": {"type": "line", "color": "#e3161c", "strokeWidth": 2.5, "strokeDash": [17, 10]}, "encoding": {"x": {"field": "e", "type": "nominal", "scale": {"type": "point", "padding": 0, "domain": ["L","R"]}, "axis": null}, "y": {"field": "md", "type": "nominal", "scale": {"type": "point", "padding": 0, "domain": ["NI","IC"]}, "axis": {"orient": "right", "labels": false, "ticks": false, "domain": false, "grid": false, "title": "10%", "titleAngle": 0, "titleAlign": "left", "titleBaseline": "middle", "titlePadding": 15, "titleFontSize": 20, "titleFontWeight": "normal", "titleColor": "black"}}}},
{"transform": [{"filter": "datum.s === '10%' && datum.md === 'NI'"}], "mark": {"type": "line", "color": "#3872c2", "strokeWidth": 2}, "encoding": {"x": {"field": "e", "type": "nominal", "scale": {"type": "point", "padding": 0, "domain": ["L","R"]}, "axis": null}, "y": {"field": "md", "type": "nominal", "scale": {"type": "point", "padding": 0, "domain": ["NI","IC"]}}}},
{"transform": [{"filter": "datum.s === '10%'"}], "mark": {"type": "point", "filled": false, "strokeWidth": 1.5, "opacity": 1}, "encoding": {"x": {"field": "e", "type": "nominal", "scale": {"type": "point", "padding": 0, "domain": ["L","R"]}, "axis": null}, "y": {"field": "md", "type": "nominal", "scale": {"type": "point", "padding": 0, "domain": ["NI","IC"]}}, "shape": {"field": "s", "type": "nominal", "scale": {"domain": ["max","1%","10%","mean"], "range": ["M0,-1L1,0.8L-1,0.8Z","M-1,0H1M0,-1V1","M-1,-1L1,1M-1,1L1,-1","M0,-1L0.6,0L0,1L-0.6,0Z"]}, "legend": null}, "size": {"field": "s", "type": "nominal", "scale": {"domain": ["max","1%","10%","mean"], "range": [64, 100, 81, 121]}, "legend": null}, "stroke": {"field": "md", "type": "nominal", "scale": {"domain": ["NI","IC"], "range": ["#3872c2","#e3161c"]}, "legend": null}}}
]},
{"width": 34, "height": 30, "view": {"stroke": null}, "data": {"name": "leg"}, "layer": [
{"transform": [{"filter": "datum.s === 'mean' && datum.md === 'IC'"}], "mark": {"type": "line", "color": "#e3161c", "strokeWidth": 2.5, "strokeDash": [17, 10]}, "encoding": {"x": {"field": "e", "type": "nominal", "scale": {"type": "point", "padding": 0, "domain": ["L","R"]}, "axis": null}, "y": {"field": "md", "type": "nominal", "scale": {"type": "point", "padding": 0, "domain": ["NI","IC"]}, "axis": {"orient": "right", "labels": false, "ticks": false, "domain": false, "grid": false, "title": "mean", "titleAngle": 0, "titleAlign": "left", "titleBaseline": "middle", "titlePadding": 15, "titleFontSize": 20, "titleFontWeight": "normal", "titleColor": "black"}}}},
{"transform": [{"filter": "datum.s === 'mean' && datum.md === 'NI'"}], "mark": {"type": "line", "color": "#3872c2", "strokeWidth": 2}, "encoding": {"x": {"field": "e", "type": "nominal", "scale": {"type": "point", "padding": 0, "domain": ["L","R"]}, "axis": null}, "y": {"field": "md", "type": "nominal", "scale": {"type": "point", "padding": 0, "domain": ["NI","IC"]}}}},
{"transform": [{"filter": "datum.s === 'mean'"}], "mark": {"type": "point", "filled": false, "strokeWidth": 1.5, "opacity": 1}, "encoding": {"x": {"field": "e", "type": "nominal", "scale": {"type": "point", "padding": 0, "domain": ["L","R"]}, "axis": null}, "y": {"field": "md", "type": "nominal", "scale": {"type": "point", "padding": 0, "domain": ["NI","IC"]}}, "shape": {"field": "s", "type": "nominal", "scale": {"domain": ["max","1%","10%","mean"], "range": ["M0,-1L1,0.8L-1,0.8Z","M-1,0H1M0,-1V1","M-1,-1L1,1M-1,1L1,-1","M0,-1L0.6,0L0,1L-0.6,0Z"]}, "legend": null}, "size": {"field": "s", "type": "nominal", "scale": {"domain": ["max","1%","10%","mean"], "range": [64, 100, 81, 121]}, "legend": null}, "stroke": {"field": "md", "type": "nominal", "scale": {"domain": ["NI","IC"], "range": ["#3872c2","#e3161c"]}, "legend": null}, "fill": {"field": "md", "type": "nominal", "scale": {"domain": ["NI","IC"], "range": ["#3872c2","#e3161c"]}, "legend": null}}}
]}
], "spacing": 71, "bounds": "flush", "resolve": {"scale": {"x": "independent", "y": "independent"}}},
{"width": 1355, "height": 102, "view": {"stroke": "#9a9a9a", "strokeWidth": 1}, "data": {"name": "cap"}, "mark": {"type": "text", "align": "left", "baseline": "middle", "font": "Liberation Sans", "fontSize": 18.5, "color": "#222222"}, "encoding": {"x": {"datum": 0.0096, "type": "quantitative", "scale": {"domain": [0, 1], "nice": false}, "axis": null}, "y": {"field": "ln", "type": "quantitative", "scale": {"domain": [-0.44, 3.64], "reverse": true, "nice": false, "zero": false}, "axis": null}, "text": {"field": "t"}}}
], "spacing": 9, "resolve": {"scale": {"x": "independent", "y": "independent", "shape": "independent", "size": "independent", "stroke": "independent", "fill": "independent"}}}
]
}
